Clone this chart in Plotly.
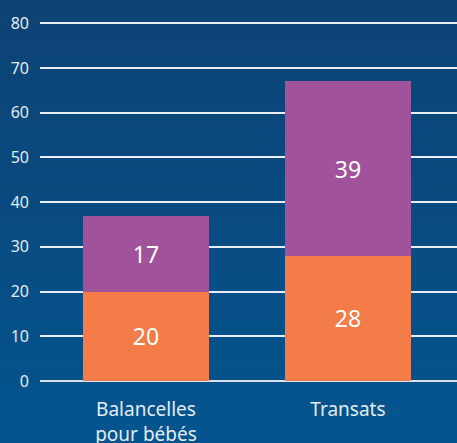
import plotly.graph_objects as go

categories = ["Balancelles<br>pour bébés", "Transats"]
series_orange = [20, 28]
series_purple = [17, 39]
tick_values = [0, 10, 20, 30, 40, 50, 60, 70, 80]

ORANGE = "#F47C48"
PURPLE = "#A0529A"
TOP = (13, 66, 116)
BOTTOM = (4, 85, 143)

fig = go.Figure()
fig.add_trace(go.Bar(x=categories, y=series_orange, marker_color=ORANGE,
                     marker_line_width=0, width=0.624,
                     text=[str(v) for v in series_orange], textposition="inside",
                     insidetextanchor="middle",
                     textfont=dict(color="white", size=23, family="Noto Sans")))
fig.add_trace(go.Bar(x=categories, y=series_purple, marker_color=PURPLE,
                     marker_line_width=0, width=0.624,
                     text=[str(v) for v in series_purple], textposition="inside",
                     insidetextanchor="middle",
                     textfont=dict(color="white", size=23, family="Noto Sans")))

# gradient background via stacked bands in paper coords
shapes = []
n = 60
H = 443
t, b = 21, 62
plot_h = H - t - b
for i in range(n):
    f = i / (n - 1)
    col = "rgb(%d,%d,%d)" % tuple(round(TOP[k] + (BOTTOM[k] - TOP[k]) * f) for k in range(3))
    y_top = (H - b - (i * H / n)) / plot_h
    y_bot = (H - b - ((i + 1) * H / n)) / plot_h
    shapes.append(dict(type="rect", xref="paper", yref="paper",
                       x0=-0.2, x1=1.1, y0=y_bot - 0.003, y1=y_top,
                       fillcolor=col, line_width=0, layer="below"))

fig.update_layout(
    barmode="stack",
    width=457, height=443,
    margin=dict(l=40, r=0, t=t, b=b, autoexpand=False),
    paper_bgcolor="rgb(9,75,128)",
    plot_bgcolor="rgba(0,0,0,0)",
    showlegend=False,
    shapes=shapes,
    font=dict(family="Noto Sans", color="#e4ecf4"),
    xaxis=dict(range=[-0.5248, 1.540], showgrid=False, zeroline=False,
               showline=False, tickfont=dict(size=19, color="#e4ecf4"),
               ticks="", ticklabelstandoff=15, automargin=False),
    yaxis=dict(range=[0, 80.5], tickvals=tick_values, showgrid=True,
               gridcolor="#e8eef4", gridwidth=1.5, zeroline=True,
               zerolinecolor="#d8e0e8", zerolinewidth=2,
               tickfont=dict(size=16, color="#e4ecf4"), ticks="",
               ticklabelstandoff=10, automargin=False),
)

fig.write_html("out.html", config={"displayModeBar": False},
               post_script="document.body.style.margin='0';document.body.style.padding='0';")
